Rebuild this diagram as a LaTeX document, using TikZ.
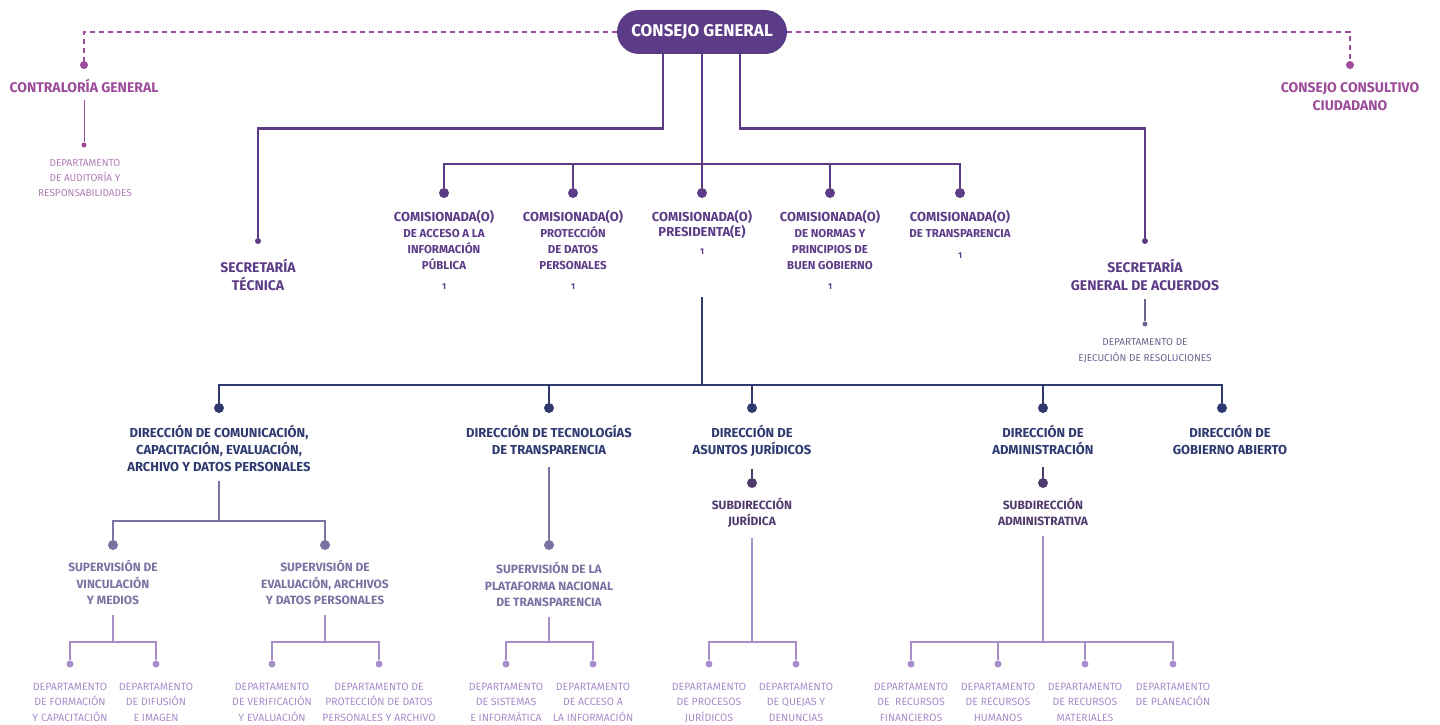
\documentclass[tikz,border=0pt]{standalone}
\usepackage{fontspec}
\setmainfont{Fira Sans}
\usetikzlibrary{positioning}
\definecolor{cgpurple}{HTML}{5C3B87}
\definecolor{magcol}{HTML}{9C4C99}
\definecolor{audcol}{HTML}{B07CB6}
\definecolor{navycol}{HTML}{2E3A70}
\definecolor{supcol}{HTML}{7A72A2}
\definecolor{subcol}{HTML}{4F3C6C}
\definecolor{depcol}{HTML}{A78DC9}
\definecolor{ejecol}{HTML}{6F6490}
\newcommand{\setfs}[2]{\fontsize{#1}{#2}\selectfont}
\begin{document}
\begin{tikzpicture}[x=1pt,y=-1pt,
    lbl/.style={align=center,anchor=north,inner sep=0pt,execute at begin node={\vphantom{Í}}},
    dot/.style={circle,fill,inner sep=0pt,minimum size=#1},
    cgbox/.style={fill=cgpurple,text=white,rounded corners=22pt,minimum width=170pt,
        minimum height=44pt,inner sep=0pt,font=\bfseries\setfs{17}{20}},
    dashline/.style={magcol,line width=1.2pt,dash pattern=on 5pt off 4pt},
    topline/.style={cgpurple,line width=2.8pt},
    navyline/.style={navycol,line width=2.4pt},
    supline/.style={supcol,line width=1.8pt},
    subline/.style={subcol,line width=2pt},
    depline/.style={depcol,line width=1.8pt},
    comtxt/.style={lbl,text=cgpurple,font=\bfseries\setfs{11.5}{16}},
    dirtxt/.style={lbl,text=navycol,font=\bfseries\setfs{13}{17}},
    suptxt/.style={lbl,text=supcol,font=\bfseries\setfs{12}{16.5}},
    subtxt/.style={lbl,text=subcol,font=\bfseries\setfs{12}{16}},
    deptxt/.style={lbl,text=depcol,font=\setfs{10.5}{15.8}},
    one/.style={text=cgpurple,inner sep=0pt,font=\bfseries\setfs{8.5}{9}}]
\useasboundingbox (0,0) rectangle (1440,725);

% consejo general y organos externos
\node[cgbox] (cg) at (702,32) {CONSEJO GENERAL};
\node[dot=8pt,magcol] (dCont) at (84,65) {};
\node[dot=8pt,magcol] (dCons) at (1350,65) {};
\draw[dashline] (cg.west) -| (dCont);
\draw[dashline] (cg.east) -| (dCons);
\node[lbl,text=magcol,font=\bfseries\setfs{14}{18}] (tCont) at (84,79) {CONTRALORÍA GENERAL};
\node[lbl,text=magcol,font=\bfseries\setfs{14}{18}] (tCons) at (1350,82) {CONSEJO CONSULTIVO\\CIUDADANO};
\node[dot=5pt,magcol] (dAud) at (84,145) {};
\draw[magcol,line width=1pt] ([yshift=-7pt]tCont.south) -- (dAud);
\node[lbl,text=audcol,font=\setfs{10}{15}] (tAud) at (85,159) {DEPARTAMENTO\\DE AUDITORÍA Y\\RESPONSABILIDADES};

% secretarias
\node[dot=6pt,cgpurple] (dST) at (258,241) {};
\node[dot=6pt,cgpurple] (dSG) at (1145,241) {};
\draw[topline] ([xshift=-39pt]cg.south) -- ++(0,74) -| (dST);
\draw[topline] ([xshift=38pt]cg.south) -- ++(0,74) -| (dSG);
\node[lbl,text=cgpurple,font=\bfseries\setfs{14}{18}] (tST) at (258,259) {SECRETARÍA\\TÉCNICA};
\node[lbl,text=cgpurple,font=\bfseries\setfs{14}{18}] (tSG) at (1145,259) {SECRETARÍA\\GENERAL DE ACUERDOS};
\node[dot=5pt,ejecol] (dEje) at (1145,324) {};
\draw[ejecol,line width=1.4pt] ([yshift=-8pt]tSG.south) -- (dEje);
\node[lbl,text=ejecol,font=\setfs{10}{16}] (tEje) at (1145,338) {DEPARTAMENTO DE\\EJECUCIÓN DE RESOLUCIONES};

% comisionadas(os)
\coordinate (bar) at (702,164);
\foreach \nm/\x in {Acc/444,Pro/573,Pre/702,Nor/830,Tra/960}
    \node[dot=10pt,cgpurple] (d\nm) at (\x,193) {};
\draw[topline] (cg) -- (dPre);
\draw[topline] (dAcc) |- (bar) -| (dTra);
\foreach \nm in {Pro,Nor}
    \draw[topline] (d\nm) -- (d\nm |- bar);
\node[comtxt] (tAcc) at (444,210.5) {{\setfs{13}{16}COMISIONADA(O)}\\DE ACCESO A LA\\INFORMACIÓN\\PÚBLICA};
\node[comtxt] (tPro) at (573,210.5) {{\setfs{13}{16}COMISIONADA(O)}\\PROTECCIÓN\\DE DATOS\\PERSONALES};
\node[comtxt,font=\bfseries\setfs{13}{15}] (tPre) at (702,210.5) {COMISIONADA(O)\\PRESIDENTA(E)};
\node[comtxt] (tNor) at (830,210.5) {{\setfs{13}{16}COMISIONADA(O)}\\DE NORMAS Y\\PRINCIPIOS DE\\BUEN GOBIERNO};
\node[comtxt] (tTra) at (960,210.5) {{\setfs{13}{16}COMISIONADA(O)}\\DE TRANSPARENCIA};
\foreach \nm/\x/\y in {Acc/444/287,Pro/573/287,Pre/702/252,Nor/830/287,Tra/960/256}
    \node[one] (n\nm) at (\x,\y) {1};

% direcciones
\coordinate (trunk) at (702,297);
\coordinate (nbar) at (702,385);
\draw[navyline] (trunk) -- (nbar);
\foreach \nm/\x in {Com/219,Tec/549,Jur/752,Adm/1043,Gob/1222}{
    \node[dot=10pt,navycol] (d\nm) at (\x,408) {};
    \draw[navyline] (d\nm) |- (nbar);
}
\node[dirtxt] (tCom) at (219,424.5) {DIRECCIÓN DE COMUNICACIÓN,\\CAPACITACIÓN, EVALUACIÓN,\\ARCHIVO Y DATOS PERSONALES};
\node[dirtxt] (tTec) at (549,424.5) {DIRECCIÓN DE TECNOLOGÍAS\\DE TRANSPARENCIA};
\node[dirtxt] (tJur) at (752,424.5) {DIRECCIÓN DE\\ASUNTOS JURÍDICOS};
\node[dirtxt] (tAdm) at (1043,424.5) {DIRECCIÓN DE\\ADMINISTRACIÓN};
\node[dirtxt] (tGob) at (1230,424.5) {DIRECCIÓN DE\\GOBIERNO ABIERTO};

% supervisiones y subdirecciones
\coordinate (cCom) at (219,481);
\coordinate (jCom) at (219,521);
\node[dot=10pt,supcol] (dVin) at (113,545) {};
\node[dot=10pt,supcol] (dEva) at (325,545) {};
\node[dot=10pt,supcol] (dPla) at (549,545) {};
\draw[supline] (cCom) -- (jCom);
\draw[supline] (dVin) |- (jCom) -| (dEva);
\draw[supline] ([yshift=-12pt]tTec.south) -- (dPla);
\node[suptxt] (tVin) at (113,560) {SUPERVISIÓN DE\\VINCULACIÓN\\Y MEDIOS};
\node[suptxt] (tEva) at (325,560) {SUPERVISIÓN DE\\EVALUACIÓN, ARCHIVOS\\Y DATOS PERSONALES};
\node[suptxt] (tPla) at (549,562) {SUPERVISIÓN DE LA\\PLATAFORMA NACIONAL\\DE TRANSPARENCIA};
\node[dot=10pt,subcol] (dSJu) at (752,483) {};
\node[dot=10pt,subcol] (dSAd) at (1043,483) {};
\draw[subline] ([yshift=-12pt]tJur.south) -- (dSJu);
\draw[subline] ([yshift=-12pt]tAdm.south) -- (dSAd);
\node[subtxt] (tSJu) at (752,498) {SUBDIRECCIÓN\\JURÍDICA};
\node[subtxt] (tSAd) at (1043,498) {SUBDIRECCIÓN\\ADMINISTRATIVA};

% departamentos
\foreach \nm/\x/\txt in {Form/70/{DEPARTAMENTO\\DE FORMACIÓN\\Y CAPACITACIÓN},
        Difu/156/{DEPARTAMENTO\\DE DIFUSIÓN\\E IMAGEN},
        Veri/272/{DEPARTAMENTO\\DE VERIFICACIÓN\\Y EVALUACIÓN},
        Prot/379/{DEPARTAMENTO DE\\PROTECCIÓN DE DATOS\\PERSONALES Y ARCHIVO},
        Sist/506/{DEPARTAMENTO\\DE SISTEMAS\\E INFORMÁTICA},
        Info/593/{DEPARTAMENTO\\DE ACCESO A\\LA INFORMACIÓN},
        Proc/709/{DEPARTAMENTO\\DE PROCESOS\\JURÍDICOS},
        Quej/796/{DEPARTAMENTO\\DE QUEJAS Y\\DENUNCIAS},
        Fina/911/{DEPARTAMENTO\\DE\ \ RECURSOS\\FINANCIEROS},
        Huma/998/{DEPARTAMENTO\\DE RECURSOS\\HUMANOS},
        Mate/1085/{DEPARTAMENTO\\DE RECURSOS\\MATERIALES},
        Plan/1173/{DEPARTAMENTO\\DE PLANEACIÓN}}{
    \node[dot=7pt,depcol] (d\nm) at (\x,664) {};
    \node[deptxt] (t\nm) at (\x,682.5) {\txt};
}
\coordinate (jVin) at (113,642);
\coordinate (jEva) at (325,642);
\coordinate (jPla) at (549,642);
\coordinate (jSJu) at (752,642);
\coordinate (jSAd) at (1043,642);
\draw[depline] ([yshift=-10pt]tVin.south) -- (jVin);
\draw[depline] ([yshift=-10pt]tEva.south) -- (jEva);
\draw[depline] ([yshift=-10pt]tPla.south) -- (jPla);
\draw[depline] ([yshift=-10pt]tSJu.south) -- (jSJu);
\draw[depline] ([yshift=-10pt]tSAd.south) -- (jSAd);
\draw[depline] (dForm) |- (jVin) -| (dDifu);
\draw[depline] (dVeri) |- (jEva) -| (dProt);
\draw[depline] (dSist) |- (jPla) -| (dInfo);
\draw[depline] (dProc) |- (jSJu) -| (dQuej);
\draw[depline] (dFina) |- (jSAd) -| (dPlan);
\foreach \nm in {Huma,Mate}
    \draw[depline] (d\nm) -- (d\nm |- jSAd);
\end{tikzpicture}
\end{document}
